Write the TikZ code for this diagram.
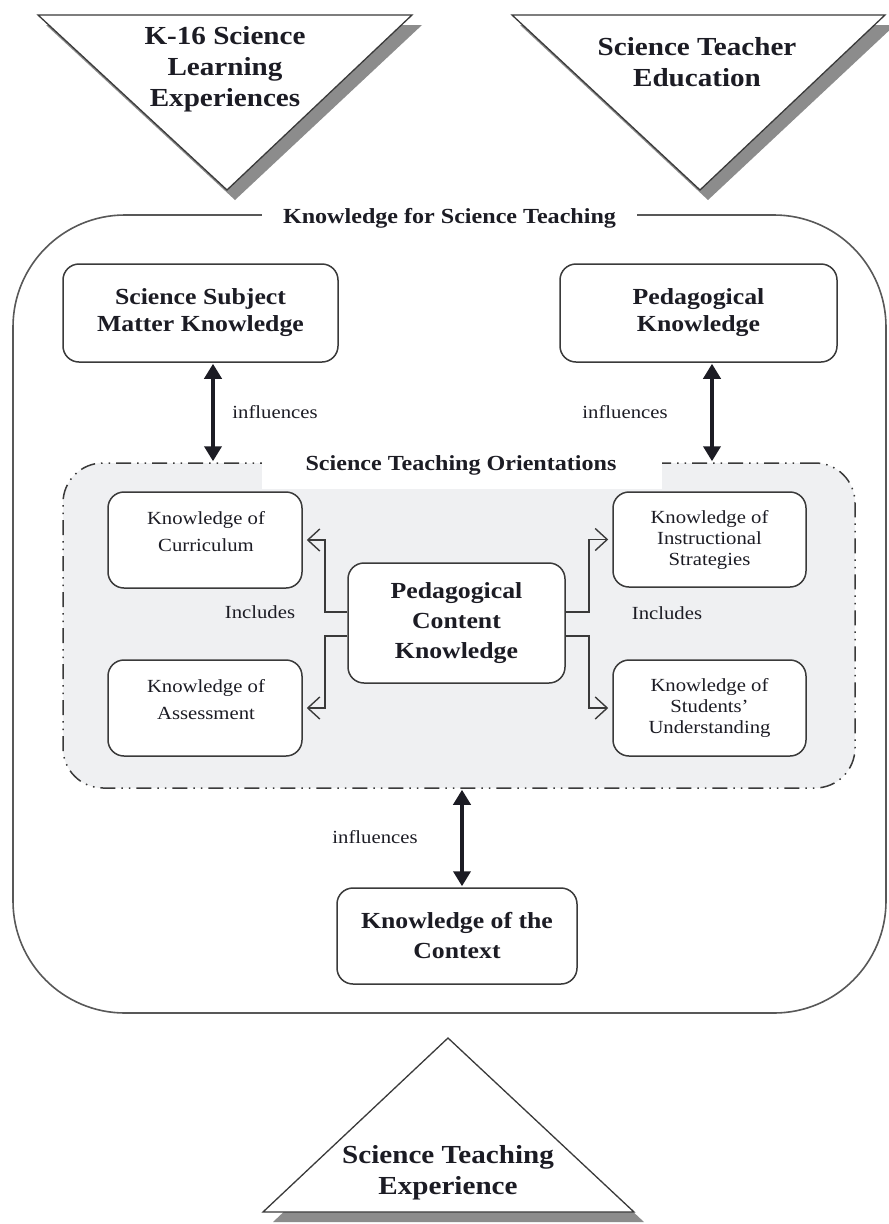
\documentclass[tikz,border=0pt]{standalone}
\usepackage{fontspec}
\setmainfont[FakeStretch=1.12]{Liberation Serif}
\usetikzlibrary{arrows.meta,calc}
\definecolor{ink}{HTML}{1C1C24}
\definecolor{linec}{HTML}{3A3A3A}
\definecolor{shade}{HTML}{8C8C8C}
\definecolor{stofill}{HTML}{EFF0F2}
\tikzset{
  bigtxt/.style={font=\fontsize{26}{31}\selectfont\bfseries, text=ink, align=center, inner sep=0pt},
  midtxt/.style={font=\fontsize{23}{27}\selectfont\bfseries, text=ink, align=center, inner sep=0pt},
  headtxt/.style={font=\fontsize{21.5}{24}\selectfont\bfseries, text=ink, align=center},
  smalltxt/.style={font=\fontsize{18.5}{21}\selectfont, text=ink, align=center, inner sep=0pt},
  lbl/.style={font=\fontsize{18.5}{21}\selectfont, text=ink, inner sep=0pt},
  kbox/.style={draw=linec, line width=1.5pt, rounded corners=16pt, fill=white, inner sep=0pt},
  tri/.style={draw=linec, line width=1.3pt, fill=white, line join=miter},
  trishadow/.style={fill=shade},
  infl/.style={line width=4pt, draw=ink, {Triangle[width=17pt,length=15pt]}-{Triangle[width=17pt,length=15pt]}, shorten <=1pt, shorten >=1pt},
  inc/.style={line width=1.4pt, draw=linec, -{Straight Barb[length=12pt,width=22pt,line width=1.4pt]}, shorten >=4pt},
  outerbox/.style={draw=linec!85, line width=1.6pt, rounded corners=112pt, inner sep=0pt},
  stobox/.style={draw=linec, line width=1.5pt, fill=stofill, rounded corners=40pt, inner sep=0pt,
    dash pattern=on 15pt off 6pt on 1.5pt off 6pt on 1.5pt off 6pt},
}
\begin{document}
\begin{tikzpicture}[x=1pt,y=-1pt]
\useasboundingbox (0,0) rectangle (889,1224);
\fill[white] (0,0) rectangle (889,1224);

% top-left triangle
\fill[trishadow] (46,25) -- (422,25) -- (235,200) -- cycle;
\draw[tri] (38,15) -- (412,15) -- (227,190) -- cycle;
\node[bigtxt] (k16) at (225,69) {K-16 Science\\Learning\\Experiences};

% top-right triangle
\fill[trishadow] (520,25) -- (895,25) -- (708,200) -- cycle;
\draw[tri] (512,15) -- (885,15) -- (700,190) -- cycle;
\node[bigtxt] (ste) at (697,62) {Science Teacher\\Education};

% bottom triangle
\fill[trishadow] (273,1222) -- (644,1222) -- (458,1048) -- cycle;
\draw[tri] (263,1212) -- (634,1212) -- (448,1038) -- cycle;
\node[bigtxt] (stex) at (448,1173) {Science Teaching\\Experience};

% outer box
\node[outerbox, minimum width=873, minimum height=798] (kst) at (449.5,614) {};
\node[headtxt, fill=white, inner xsep=21pt, inner ysep=2pt] (ksttitle) at (449.5,218) {Knowledge for Science Teaching};

% top boxes
\node[kbox, midtxt, minimum width=275, minimum height=98] (ssmk) at (200.5,313) {Science Subject\\Matter Knowledge};
\node[kbox, midtxt, minimum width=277, minimum height=98] (pk) at (698.5,313) {Pedagogical\\Knowledge};

% STO region
\node[stobox, minimum width=792, minimum height=325] (sto) at (459,625.5) {};
\fill[white] (262,452) rectangle (662,489);
\node[headtxt] (stotitle) at (461,465) {Science Teaching Orientations};

% inner boxes
\node[kbox, minimum width=194, minimum height=96] (koc) at (205,540) {};
\node[smalltxt, font=\fontsize{18.5}{27}\selectfont] (koct) at (206,532) {Knowledge of\\Curriculum};
\node[kbox, minimum width=194, minimum height=96] (koa) at (205,708) {};
\node[smalltxt, font=\fontsize{18.5}{27}\selectfont] (koat) at (206,700) {Knowledge of\\Assessment};
\node[kbox, smalltxt, minimum width=193, minimum height=95] (kois) at (709.5,539.5) {Knowledge of\\Instructional\\Strategies};
\node[kbox, smalltxt, minimum width=193, minimum height=96] (kosu) at (709.5,708) {Knowledge of\\Students'\\Understanding};
\node[kbox, midtxt, font=\fontsize{23}{30}\selectfont\bfseries, minimum width=217, minimum height=120] (pck) at (456.5,623) {Pedagogical\\Content\\Knowledge};

% bottom box
\node[kbox, midtxt, font=\fontsize{23}{30}\selectfont\bfseries, minimum width=240, minimum height=96] (kotc) at (457,936) {Knowledge of the\\Context};

% influence arrows
\coordinate (a1) at ([xshift=12.5pt]ssmk.south);
\draw[infl] (a1) -- (a1 |- sto.north);
\coordinate (a2) at ([xshift=13.5pt]pk.south);
\draw[infl] (a2) -- (a2 |- sto.north);
\coordinate (a3) at ([xshift=5pt]kotc.north);
\draw[infl] (a3 |- sto.south) -- (a3);

\node[lbl] (inf1) at (275,412) {influences};
\node[lbl] (inf2) at (625,412) {influences};
\node[lbl] (inf3) at (375,837) {influences};

% includes connectors
\coordinate (lb) at (325,0);
\coordinate (rb) at (589,0);
\draw[inc] ([yshift=11pt]pck.west) -| (lb |- koc.east) -- (koc.east);
\draw[inc] ([yshift=-13pt]pck.west) -| (lb |- koa.east) -- (koa.east);
\draw[inc] ([yshift=11pt]pck.east) -| (rb |- kois.west) -- (kois.west);
\draw[inc] ([yshift=-13pt]pck.east) -| (rb |- kosu.west) -- (kosu.west);

\node[lbl] (inc1) at (260,612) {Includes};
\node[lbl] (inc2) at (667,613) {Includes};
\end{tikzpicture}
\end{document}
